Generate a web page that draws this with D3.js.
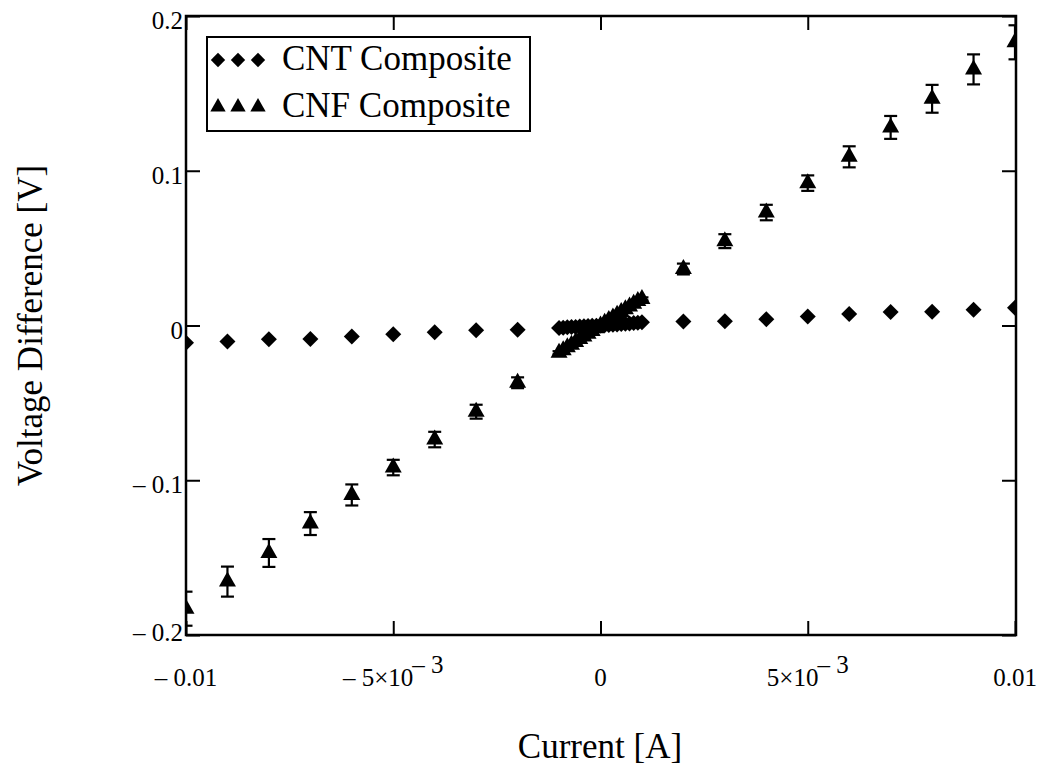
<!DOCTYPE html>
<html>
<head>
<meta charset="utf-8">
<script src="https://cdn.jsdelivr.net/npm/d3@7"></script>
<style>
    body { margin: 0; background: #fff; }
    svg text { font-family: "Liberation Serif", "Times New Roman", serif; fill: #000; }
</style>
</head>
<body>
<div id="chart"></div>
<script>

// applied current [A], same steps for both composites
var current = [-0.01, -0.009, -0.008, -0.007, -0.006, -0.005, -0.004, -0.003, -0.002,
    -0.001, -0.0009, -0.0008, -0.0007, -0.0006, -0.0005, -0.0004, -0.0003, -0.0002, -0.0001,
    0, 0.0001, 0.0002, 0.0003, 0.0004, 0.0005, 0.0006, 0.0007, 0.0008, 0.0009, 0.001,
    0.002, 0.003, 0.004, 0.005, 0.006, 0.007, 0.008, 0.009, 0.01];

// voltage difference [V]
var cntVoltage = [-0.0111, -0.0103, -0.0089, -0.0088, -0.0071, -0.0057, -0.0043, -0.0030, -0.0028,
    -0.0016, -0.0014, -0.0012, -0.0010, -0.0009, -0.0007, -0.0005, -0.0004, -0.0002, -0.0001,
    0.0000, 0.0002, 0.0003, 0.0005, 0.0007, 0.0009, 0.0011, 0.0013, 0.0016, 0.0018, 0.0021,
    0.0026, 0.0027, 0.0041, 0.0058, 0.0074, 0.0088, 0.0089, 0.0102, 0.0115];

var cnfVoltage = [-0.1830, -0.1655, -0.1470, -0.1280, -0.1095, -0.0918, -0.0737, -0.0557, -0.0370,
    -0.0176, -0.0160, -0.0141, -0.0124, -0.0107, -0.0088, -0.0071, -0.0054, -0.0036, -0.0017,
    0.0000, 0.0018, 0.0035, 0.0052, 0.0070, 0.0088, 0.0105, 0.0123, 0.0141, 0.0158, 0.0172,
    0.0365, 0.0545, 0.0730, 0.0920, 0.1090, 0.1280, 0.1465, 0.1655, 0.1830];

// half height of the CNF error bars [V]
var cnfError = [0.0110, 0.0097, 0.0090, 0.0074, 0.0068, 0.0050, 0.0050, 0.0045, 0.0035,
    0.0010, 0.0010, 0.0010, 0.0010, 0.0010, 0.0010, 0.0010, 0.0010, 0.0010, 0.0010,
    0.0010, 0.0010, 0.0010, 0.0010, 0.0010, 0.0010, 0.0010, 0.0010, 0.0010, 0.0010, 0.0010,
    0.0035, 0.0045, 0.0050, 0.0050, 0.0068, 0.0074, 0.0090, 0.0097, 0.0110];

var xTicks = [-0.01, -0.005, 0, 0.005, 0.01];
var xTickLabels = [["\u2013 0.01"], ["\u2013 5\u00d710", "\u2013 3"], ["0"], ["5\u00d710", "\u2013 3"], ["0.01"]];
var yTicks = [-0.2, -0.1, 0, 0.1, 0.2];
var yTickLabels = ["\u2013 0.2", "\u2013 0.1", "0", "0.1", "0.2"];
var seriesNames = ["CNT Composite", "CNF Composite"];

/**
 * Constructor for the current / voltage chart
 */
function CurrentVoltageChart() {
    var self = this;
    self.init();
};

/**
 * Creates the svg, the scales and the frame of the plot
 */
CurrentVoltageChart.prototype.init = function () {
    var self = this;
    self.svgWidth = 1048;
    self.svgHeight = 765;
    self.plot = { left: 186, right: 1016, top: 16, bottom: 635 };
    self.tickLen = 14;

    self.svg = d3.select("#chart").append("svg")
        .attr("width", self.svgWidth)
        .attr("height", self.svgHeight);

    self.xScale = d3.scaleLinear()
        .domain([-0.01, 0.01])
        .range([self.plot.left, self.plot.right - 1]);
    self.yScale = d3.scaleLinear()
        .domain([-0.2, 0.2])
        .range([self.plot.bottom, self.plot.top]);

    //markers at the border get cut like in the original
    self.svg.append("clipPath")
        .attr("id", "plotClip")
        .append("rect")
        .attr("x", self.plot.left)
        .attr("y", self.plot.top)
        .attr("width", self.plot.right - self.plot.left)
        .attr("height", self.plot.bottom - self.plot.top);

    self.dataLayer = self.svg.append("g").attr("clip-path", "url(#plotClip)");
    self.axisLayer = self.svg.append("g");
};

/**
 * Draws the ticks on all four sides (pointing inwards) and their labels
 */
CurrentVoltageChart.prototype.drawAxes = function () {
    var self = this;
    var p = self.plot;

    var axes = [
        { axis: d3.axisBottom(self.xScale).tickValues(xTicks), t: "translate(0," + p.bottom + ")" },
        { axis: d3.axisTop(self.xScale).tickValues(xTicks), t: "translate(0," + p.top + ")" },
        { axis: d3.axisLeft(self.yScale).tickValues(yTicks), t: "translate(" + p.left + ",0)" },
        { axis: d3.axisRight(self.yScale).tickValues(yTicks), t: "translate(" + p.right + ",0)" }
    ];
    axes.forEach(function (a) {
        var g = self.axisLayer.append("g")
            .attr("transform", a.t)
            .call(a.axis.tickSizeInner(-self.tickLen).tickSizeOuter(0).tickFormat(""));
        g.select(".domain").remove();
        g.selectAll(".tick line").attr("stroke", "#000").attr("stroke-width", 2);
    });

    self.axisLayer.append("rect")
        .attr("x", p.left)
        .attr("y", p.top)
        .attr("width", p.right - p.left)
        .attr("height", p.bottom - p.top)
        .attr("fill", "none")
        .attr("stroke", "#000")
        .attr("stroke-width", 2.5);

    // x tick labels, the exponent goes in a raised tspan
    xTicks.forEach(function (v, i) {
        var parts = xTickLabels[i];
        var txt = self.axisLayer.append("text")
            .attr("x", self.xScale(v))
            .attr("y", 686)
            .attr("text-anchor", "middle")
            .style("font-size", "25px");
        txt.append("tspan").text(parts[0]);
        if (parts.length > 1) {
            txt.append("tspan")
                .attr("dy", -13)
                .attr("dx", -1)
                .text(parts[1]);
        }
    });

    yTicks.forEach(function (v, i) {
        self.axisLayer.append("text")
            .attr("x", 183)
            .attr("y", Math.min(self.yScale(v) + 13, 641))
            .attr("text-anchor", "end")
            .style("font-size", "25px")
            .text(yTickLabels[i]);
    });

    self.axisLayer.append("text")
        .attr("x", 600)
        .attr("y", 758)
        .attr("text-anchor", "middle")
        .style("font-size", "35px")
        .text("Current [A]");

    self.axisLayer.append("text")
        .attr("transform", "translate(42," + (p.top + p.bottom) / 2 + ") rotate(-90)")
        .attr("text-anchor", "middle")
        .style("font-size", "35px")
        .text("Voltage Difference [V]");
};

/**
 * Plots both series, error bars for the CNF composite and the legend
 */
CurrentVoltageChart.prototype.update = function () {
    var self = this;
    var diamond = "M0,-8L8,0L0,8L-8,0Z";
    var triangle = "M0,-10L8.5,5L-8.5,5Z";

    var cntData = current.map(function (c, i) { return { x: c, y: cntVoltage[i] }; });
    var cnfData = current.map(function (c, i) { return { x: c, y: cnfVoltage[i], e: cnfError[i] }; });

    self.dataLayer.selectAll(".cnt")
        .data(cntData)
        .enter()
        .append("path")
        .attr("class", "cnt")
        .attr("d", diamond)
        .attr("transform", function (d) {
            return "translate(" + self.xScale(d.x) + "," + self.yScale(d.y) + ")";
        })
        .attr("fill", "#000");

    var bars = self.dataLayer.selectAll(".errbar")
        .data(cnfData)
        .enter()
        .append("g")
        .attr("class", "errbar")
        .attr("stroke", "#000")
        .attr("stroke-width", 2.2);
    bars.append("line")
        .attr("x1", function (d) { return self.xScale(d.x); })
        .attr("x2", function (d) { return self.xScale(d.x); })
        .attr("y1", function (d) { return self.yScale(d.y - d.e); })
        .attr("y2", function (d) { return self.yScale(d.y + d.e); });
    [-1, 1].forEach(function (s) {
        bars.append("line")
            .attr("x1", function (d) { return self.xScale(d.x) - 6.5; })
            .attr("x2", function (d) { return self.xScale(d.x) + 6.5; })
            .attr("y1", function (d) { return self.yScale(d.y + s * d.e); })
            .attr("y2", function (d) { return self.yScale(d.y + s * d.e); });
    });

    self.dataLayer.selectAll(".cnf")
        .data(cnfData)
        .enter()
        .append("path")
        .attr("class", "cnf")
        .attr("d", triangle)
        .attr("transform", function (d) {
            return "translate(" + self.xScale(d.x) + "," + self.yScale(d.y) + ")";
        })
        .attr("fill", "#000");

    //legend box in the upper left corner
    var legend = self.axisLayer.append("g");
    legend.append("rect")
        .attr("x", 207)
        .attr("y", 37)
        .attr("width", 323)
        .attr("height", 94)
        .attr("fill", "#fff")
        .attr("stroke", "#000")
        .attr("stroke-width", 2);

    var symbols = [diamond, triangle];
    seriesNames.forEach(function (name, i) {
        var rowY = 60 + i * 46;
        [218, 238, 258].forEach(function (sx) {
            legend.append("path")
                .attr("d", symbols[i])
                .attr("transform", "translate(" + sx + "," + (rowY + (i == 1 ? 1 : 0)) + ") scale(0.9)")
                .attr("fill", "#000");
        });
        legend.append("text")
            .attr("x", 282)
            .attr("y", rowY + 10 + (i == 1 ? 1 : 0))
            .style("font-size", "35px")
            .text(name);
    });
};

var chart = new CurrentVoltageChart();
chart.drawAxes();
chart.update();
</script>
</body>
</html>
